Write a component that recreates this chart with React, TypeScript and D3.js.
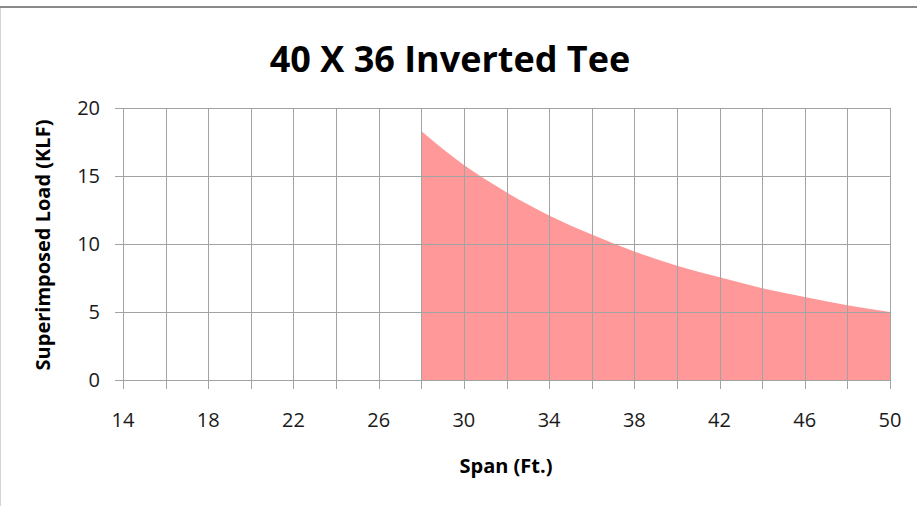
import React, { useRef, useEffect } from 'react';
import * as d3 from 'd3';

// span categories on the x axis (Ft.)
const spans = [14, 16, 18, 20, 22, 24, 26, 28, 30, 32, 34, 36, 38, 40, 42, 44, 46, 48, 50];
const spanLabels = [14, 18, 22, 26, 30, 34, 38, 42, 46, 50];
// superimposed load (KLF), only defined from 28 ft on
const loadSpans = [28, 30, 32, 34, 36, 38, 40, 42, 44, 46, 48, 50];
const loadValues = [18.3, 15.8, 13.8, 12.1, 10.7, 9.45, 8.4, 7.55, 6.75, 6.1, 5.5, 5.0];
const yTicks = [0, 5, 10, 15, 20];

const App = () => {
  const svgRef = useRef<SVGSVGElement>(null);

  useEffect(() => {
    const width = 917;
    const height = 506;
    const margin = { top: 108, right: 27, bottom: 126, left: 123 };
    const font = "'Open Sans', 'Noto Sans', sans-serif";
    const grid = '#a3a3a3';

    const svg = d3.select(svgRef.current)
      .attr('width', width)
      .attr('height', height);

    svg.selectAll('*').remove();

    svg.append('rect').attr('width', width).attr('height', height).attr('fill', '#fff');

    // outer frame bits
    svg.append('line')
      .attr('x1', 0).attr('x2', width).attr('y1', 7).attr('y2', 7)
      .attr('stroke', '#8a8a8a').attr('stroke-width', 2);
    svg.append('line')
      .attr('x1', 0.5).attr('x2', 0.5).attr('y1', 8).attr('y2', height)
      .attr('stroke', '#d4d4d4').attr('stroke-width', 1);

    const x = d3.scaleLinear()
      .domain([14, 50])
      .range([margin.left, width - margin.right]);

    const y = d3.scaleLinear()
      .domain([0, 20])
      .range([height - margin.bottom, margin.top]);

    const pts = loadSpans.map((s, i) => ({ s, v: loadValues[i] }));

    // area first, gridlines show through it
    const area = d3.area<{ s: number; v: number }>()
      .x(d => x(d.s))
      .y0(y(0))
      .y1(d => y(d.v))
      .curve(d3.curveMonotoneX);

    svg.append('path')
      .datum(pts)
      .attr('fill', 'rgb(255,52,52)')
      .attr('fill-opacity', 0.5)
      .attr('d', area);

    // vertical gridlines + tick marks
    svg.append('g')
      .selectAll('line')
      .data(spans)
      .join('line')
      .attr('x1', d => Math.round(x(d)) + 0.5)
      .attr('x2', d => Math.round(x(d)) + 0.5)
      .attr('y1', y(20))
      .attr('y2', y(0) + 9)
      .attr('stroke', grid)
      .attr('stroke-width', 1);

    // horizontal gridlines + tick marks
    svg.append('g')
      .selectAll('line')
      .data(yTicks)
      .join('line')
      .attr('x1', x(14) - 8)
      .attr('x2', x(50))
      .attr('y1', d => Math.round(y(d)) + 0.5)
      .attr('y2', d => Math.round(y(d)) + 0.5)
      .attr('stroke', grid)
      .attr('stroke-width', 1);

    // y tick labels
    svg.append('g')
      .selectAll('text')
      .data(yTicks)
      .join('text')
      .attr('x', x(14) - 23)
      .attr('y', d => y(d) + 7)
      .attr('text-anchor', 'end')
      .attr('font-family', font)
      .attr('font-size', 20)
      .attr('fill', '#1a1a1a')
      .text(d => d);

    // x tick labels
    svg.append('g')
      .selectAll('text')
      .data(spanLabels)
      .join('text')
      .attr('x', d => x(d))
      .attr('y', y(0) + 47)
      .attr('text-anchor', 'middle')
      .attr('font-family', font)
      .attr('font-size', 20)
      .attr('fill', '#1a1a1a')
      .text(d => d);

    // title
    svg.append('text')
      .attr('x', 450)
      .attr('y', 72)
      .attr('text-anchor', 'middle')
      .attr('font-family', font)
      .attr('font-weight', 'bold')
      .attr('font-size', 36)
      .attr('fill', '#000')
      .text('40 X 36 Inverted Tee');

    // axis titles
    svg.append('text')
      .attr('x', 506)
      .attr('y', 473)
      .attr('text-anchor', 'middle')
      .attr('font-family', font)
      .attr('font-weight', 'bold')
      .attr('font-size', 20)
      .attr('fill', '#000')
      .text('Span (Ft.)');

    svg.append('text')
      .attr('transform', 'translate(50,245) rotate(-90)')
      .attr('text-anchor', 'middle')
      .attr('font-family', font)
      .attr('font-weight', 'bold')
      .attr('font-size', 20)
      .attr('fill', '#000')
      .text('Superimposed Load (KLF)');
  }, []);

  return (
    <svg ref={svgRef} style={{ position: 'absolute', left: 0, top: 0, display: 'block' }}></svg>
  );
};

export default App;
